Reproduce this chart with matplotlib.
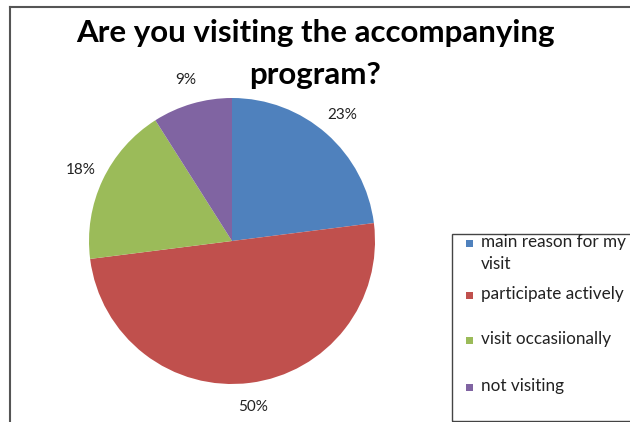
import matplotlib
matplotlib.use("Agg")
import matplotlib.pyplot as plt
from matplotlib.patches import Rectangle
from matplotlib.lines import Line2D

plt.rcParams['font.family'] = ['Lato', 'DejaVu Sans']

title_lines = ["Are you visiting the accompanying", "program?"]
labels = ["main reason for my\nvisit", "participate actively", "visit occasiionally", "not visiting"]
shares = [23, 50, 18, 9]
colors = ["#4F81BD", "#C0504D", "#9BBB59", "#8064A2"]

W, H = 630, 422
fig = plt.figure(figsize=(W / 100, H / 100), dpi=100)

# outer chart frame (only top and left visible in the crop)
fig.add_artist(Line2D([10 / W, 1], [1 - 7 / H, 1 - 7 / H], transform=fig.transFigure,
                      color="#555555", lw=1.5))
fig.add_artist(Line2D([10 / W, 10 / W], [0, 1 - 7 / H], transform=fig.transFigure,
                      color="#555555", lw=1.5))

# pie: centre (232, 241) px, radius 143 px
cx, cy, r = 232, 241, 143
ax = fig.add_axes([(cx - r) / W, (H - cy - r) / H, 2 * r / W, 2 * r / H])
wedges, texts, autotexts = ax.pie(shares, colors=colors, startangle=90, counterclock=False,
                                  autopct='%d%%', pctdistance=1.17, radius=1,
                                  textprops=dict(fontsize=11, color="#222222"))
ax.set_xlim(-1, 1)
ax.set_ylim(-1, 1)
ax.set_aspect('equal')
ax.axis('off')

for line, y in zip(title_lines, [33, 75]):
    fig.text(315 / W, 1 - y / H, line, ha='center', va='center', fontsize=22.5,
             fontweight='bold')

# legend box
fig.add_artist(Rectangle((452 / W, 1 - 421 / H), 200 / W, (421 - 234) / H,
                         transform=fig.transFigure, fill=False, edgecolor="#444444", lw=1))
entry_y = [243, 295, 340, 387]
for lab, col, y in zip(labels, colors, entry_y):
    fig.add_artist(Rectangle((466 / W, 1 - (y + 4) / H), 7 / W, 7 / H,
                             transform=fig.transFigure, facecolor=col, edgecolor='none'))
    fig.text(481 / W, 1 - (y - 9) / H, lab, ha='left', va='top', fontsize=12.3,
             color="#222222", linespacing=1.45)

fig.savefig("out.png", dpi=100)
